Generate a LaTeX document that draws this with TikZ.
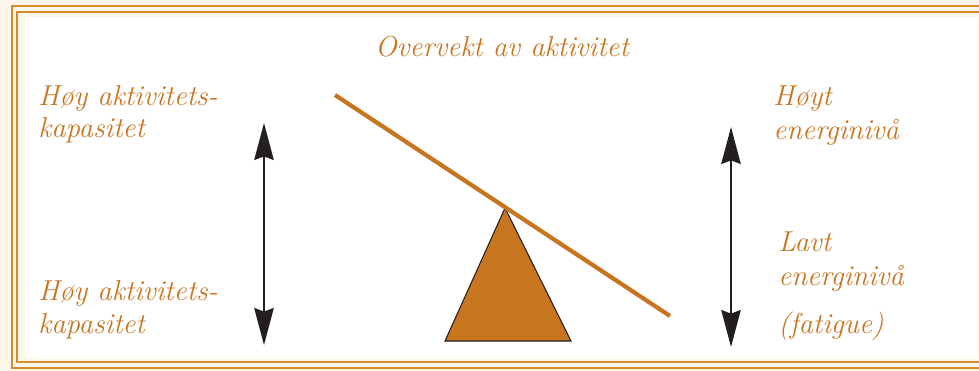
\documentclass[tikz,border=0pt]{standalone}
\usepackage{fontspec}
\usepackage{tikz}
\usetikzlibrary{arrows.meta}
\definecolor{balorange}{RGB}{200,117,32}
\definecolor{balframe}{RGB}{214,140,42}
\definecolor{balcream}{RGB}{253,246,235}
\definecolor{baldark}{RGB}{35,31,32}

\begin{document}
\begin{tikzpicture}[x=0.02cm, y=-0.02cm, line join=miter,
    lbl/.style={balorange, font=\fontsize{16.4}{19}\selectfont\itshape\addfontfeatures{FakeBold=0.8},
      inner sep=0pt, anchor=base west},
    dblarrow/.style={baldark, line width=1.4pt,
      {Stealth[length=21pt,width=11pt,inset=2pt]}-{Stealth[length=21pt,width=11pt,inset=2pt]}}]
  \path[use as bounding box] (0,0) rectangle (979,371); % pixel canvas of the reference
  % cream page and white panel
  \fill[balcream] (0,0) rectangle (979,371);
  \fill[white] (25,17) rectangle (977,358);
  % double frame, cut off at the right edge
  \draw[balframe, line width=1.5pt] (12,6) rectangle (995,368);
  \draw[balframe, line width=1.5pt] (17,12) rectangle (990,362);

  % fulcrum and tilted beam
  \filldraw[fill=balorange, draw=baldark, line width=0.6pt]
    (505,208) -- (571,341) -- (445,341) -- cycle;
  \draw[balorange, line width=2.4pt] (335,95) -- (670,316);

  % arrow end points
  \coordinate (capTop) at (264,123);
  \coordinate (capBot) at (264,345);
  \coordinate (engTop) at (731,127);
  \coordinate (engBot) at (731,347);
  \draw[dblarrow] (capTop) -- (capBot);
  \draw[dblarrow] (engTop) -- (engBot);

  % labels
  \node[lbl, anchor=base] (title) at (502,57) {Overvekt av aktivitet};
  \node[lbl] (capHighA) at (38,106) {Høy aktivitets-};
  \node[lbl] (capHighB) at (38,138) {kapasitet};
  \node[lbl] (capLowA) at (38,300) {Høy aktivitets-};
  \node[lbl] (capLowB) at (38,333) {kapasitet};
  \node[lbl] (engHighA) at (773,106) {Høyt};
  \node[lbl] (engHighB) at (773,140) {energinivå};
  \node[lbl] (engLowA) at (778,251) {Lavt};
  \node[lbl] (engLowB) at (778,285) {energinivå};
  \node[lbl] (engLowC) at (778,333) {(fatigue)};
\end{tikzpicture}
\end{document}
